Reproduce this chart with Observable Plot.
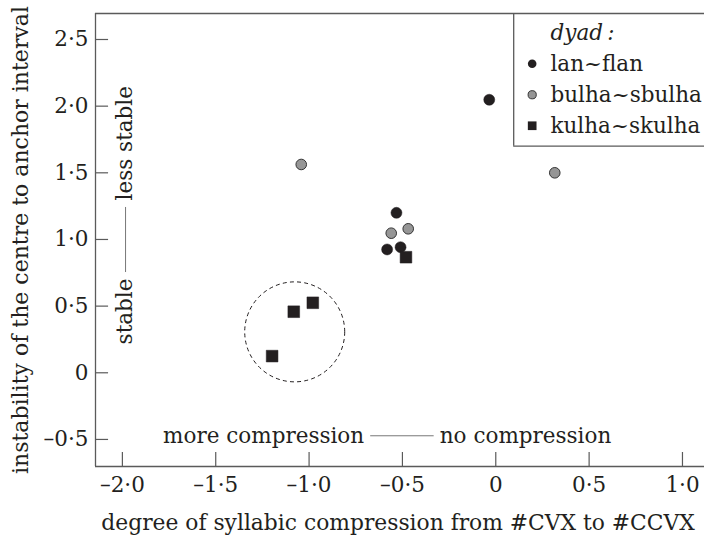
<!DOCTYPE html>
<html><head><meta charset="utf-8">
<script src="https://cdn.jsdelivr.net/npm/d3@7"></script>
<script src="https://cdn.jsdelivr.net/npm/@observablehq/plot@0.6"></script>
<style>body{margin:0;background:#fff;overflow:hidden;}</style>
</head><body><div id="chart"></div>
<script>
// ---- data ----
const dyads = ["lan~flan", "bulha~sbulha", "kulha~skulha"];
const lanX = [-0.035, -0.532, -0.582, -0.510];
const lanY = [2.048, 1.200, 0.925, 0.942];
const bulX = [-1.042, 0.316, -0.560, -0.469];
const bulY = [1.5625, 1.500, 1.047, 1.080];
const kulX = [-1.198, -1.082, -0.980, -0.481];
const kulY = [0.125, 0.458, 0.525, 0.867];
const xTicks = [-2, -1.5, -1, -0.5, 0, 0.5, 1];
const xTickLabels = ["–2·0", "–1·5", "–1·0", "–0·5", "0", "0·5", "1·0"];
const yTicks = [-0.5, 0, 0.5, 1, 1.5, 2, 2.5];
const yTickLabels = ["–0·5", "0", "0·5", "1·0", "1·5", "2·0", "2·5"];
const clusterCentreX = [-1.077];
const clusterCentreY = [0.307];
const xTitle = "degree of syllabic compression from #CVX to #CCVX";
const yTitle = "instability of the centre to anchor interval";
const legendTitle = "dyad\u2009:";

// ---- build ----
const xDom = [-2.144, 1.118];
const yDom = [-0.703, 2.695];
const ink = "#231f20";
const lineCol = "#5a5a5a";
const fs = 21.5;
const mk = (xs, ys, name) => xs.map((x, i) => ({x, y: ys[i], dyad: name}));
const lan = mk(lanX, lanY, dyads[0]);
const bul = mk(bulX, bulY, dyads[1]);
const kul = mk(kulX, kulY, dyads[2]);
const cluster = clusterCentreX.map((x, i) => ({x, y: clusterCentreY[i]}));

// legend layout (in data units)
const legX0 = 0.096, legY0 = 1.70;
const legMarkX = 0.195, legTextX = 0.293;
const legRowY = i => 2.318 - i * 0.2325;
const legend = dyads.map((d, i) => ({label: d, y: legRowY(i), i}));

const plot = Plot.plot({
  width: 704, height: 536,
  marginLeft: 95, marginRight: 0, marginTop: 13, marginBottom: 70,
  style: {fontFamily: "DejaVu Serif", fontSize: fs + "px", color: ink, background: "#fff"},
  x: {domain: xDom},
  y: {domain: yDom},
  marks: [
    // frame (left, bottom, top)
    Plot.ruleX([xDom[0]], {y1: yDom[0], y2: yDom[1], stroke: lineCol, strokeWidth: 1.3}),
    Plot.ruleY([yDom[0], yDom[1]], {stroke: lineCol, strokeWidth: 1.3}),
    // inward ticks
    Plot.ruleX(xTicks, {x: d => d, y1: yDom[0], y2: yDom[0] + 0.105, stroke: lineCol, strokeWidth: 1.2}),
    Plot.ruleY(yTicks, {y: d => d, x1: xDom[0], x2: xDom[0] + 0.07, stroke: lineCol, strokeWidth: 1.2}),
    Plot.axisX({ticks: xTicks, tickFormat: d => xTickLabels[xTicks.indexOf(d)], tickSize: 0, tickPadding: 10, label: null, fontSize: fs}),
    Plot.axisY({ticks: yTicks, tickFormat: d => yTickLabels[yTicks.indexOf(d)], tickSize: 0, tickPadding: 7, label: null, fontSize: fs}),
    // axis titles
    Plot.text([xTitle], {text: d => d, frameAnchor: "bottom", dx: -2, dy: 57, textAnchor: "middle", lineAnchor: "middle", fontSize: 21.8, fill: ink}),
    Plot.text([yTitle], {text: d => d, frameAnchor: "left", dx: -75, rotate: -90, textAnchor: "middle", lineAnchor: "middle", fontSize: 22, fill: ink}),
    // annotations
    Plot.text(["more compression"], {text: d => d, x: -0.705, y: -0.478, textAnchor: "end", lineAnchor: "middle", fontSize: fs, fill: ink}),
    Plot.ruleY([-0.4725], {x1: -0.670, x2: -0.330, stroke: "#777", strokeWidth: 1}),
    Plot.text(["no compression"], {text: d => d, x: -0.300, y: -0.478, textAnchor: "start", lineAnchor: "middle", fontSize: fs, fill: ink}),
    Plot.text(["stable"], {text: d => d, x: -1.983, y: 0.707, rotate: -90, textAnchor: "end", lineAnchor: "middle", fontSize: fs, fill: ink}),
    Plot.ruleX([-1.983], {y1: 0.752, y2: 1.240, stroke: "#777", strokeWidth: 1}),
    Plot.text(["less stable"], {text: d => d, x: -1.983, y: 1.293, rotate: -90, textAnchor: "start", lineAnchor: "middle", fontSize: fs, fill: ink}),
    // dashed cluster circle
    Plot.dot(cluster, {x: "x", y: "y", r: 50, fill: "none", stroke: ink, strokeWidth: 1, strokeDasharray: "4,3.2"}),
    // data points
    Plot.dot(lan, {x: "x", y: "y", r: 5.5, fill: ink, stroke: ink, strokeWidth: 0.5}),
    Plot.dot(bul, {x: "x", y: "y", r: 5.3, fill: "#969696", stroke: "#333", strokeWidth: 1}),
    Plot.dot(kul, {x: "x", y: "y", r: 6.6, symbol: "square", fill: ink, stroke: ink, strokeWidth: 0.5}),
    // legend box (left & bottom sides)
    Plot.ruleX([legX0], {y1: legY0, y2: yDom[1], stroke: lineCol, strokeWidth: 1.3}),
    Plot.ruleY([legY0], {x1: legX0, x2: xDom[1], stroke: lineCol, strokeWidth: 1.3}),
    Plot.text([legendTitle], {text: d => d, x: legTextX, y: 2.545, textAnchor: "start", lineAnchor: "middle", fontSize: fs, fontStyle: "italic", fill: ink}),
    Plot.dot(legend.filter(d => d.i === 0), {x: legMarkX, y: "y", r: 4.3, fill: ink}),
    Plot.dot(legend.filter(d => d.i === 1), {x: legMarkX, y: "y", r: 4.1, fill: "#969696", stroke: "#333", strokeWidth: 1}),
    Plot.dot(legend.filter(d => d.i === 2), {x: legMarkX, y: "y", r: 4.9, symbol: "square", fill: ink}),
    Plot.text(legend, {text: "label", x: legTextX, y: "y", textAnchor: "start", lineAnchor: "middle", fontSize: fs, fill: ink})
  ]
});
document.getElementById("chart").appendChild(plot);
</script>
</body></html>
